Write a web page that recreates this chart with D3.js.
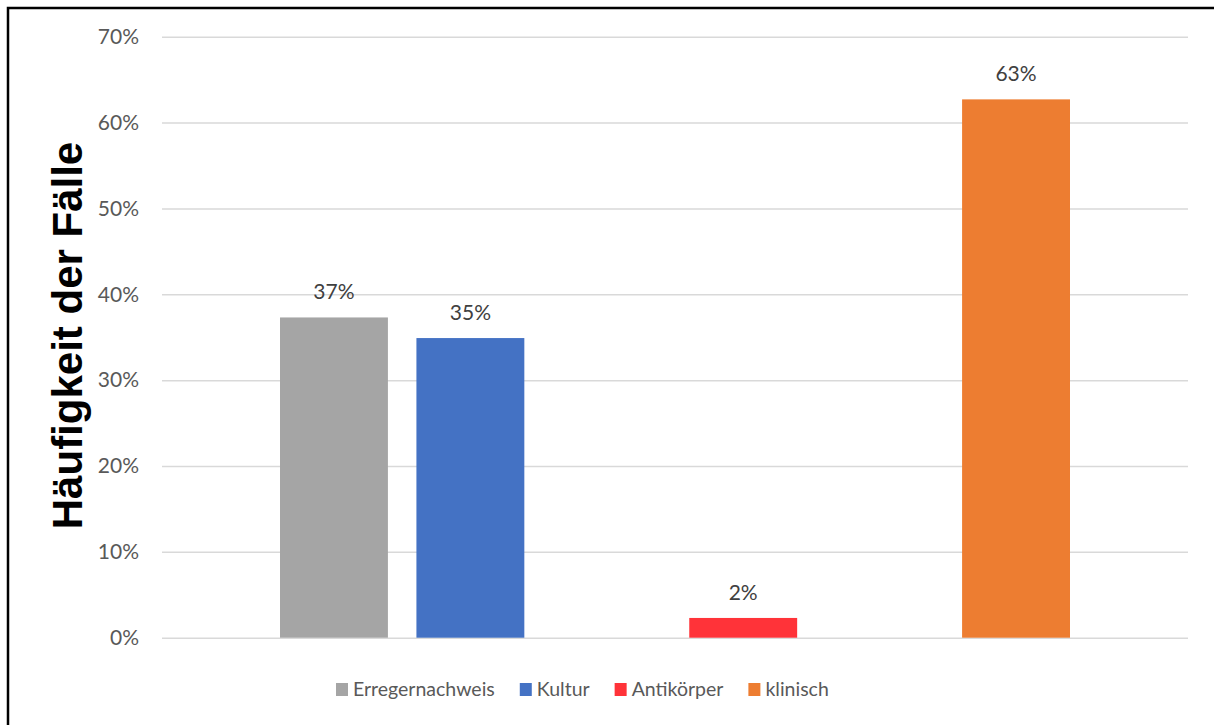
<!DOCTYPE html>
<html>
<head>
<meta charset="utf-8">
<script src="https://cdn.jsdelivr.net/npm/d3@7"></script>
<style>
  html, body { margin: 0; padding: 0; background: #fff; }
  svg { display: block; }
</style>
</head>
<body>
<svg id="chart" width="1214" height="725"></svg>
<script>
// Diagnosis categories and their share of cases
const seriesNames = ["Erregernachweis", "Kultur", "Antikörper", "klinisch"];
const seriesValues = [0.373, 0.349, 0.023, 0.627];
const seriesColors = ["#A5A5A5", "#4472C4", "#FF3339", "#ED7D31"];
// position of each series within the six-slot cluster (slots 2 and 4 stay empty)
const seriesSlots = [0, 1, 3, 5];
const slotCount = 6;
const yTicks = [0, 0.1, 0.2, 0.3, 0.4, 0.5, 0.6, 0.7];
const yTitle = "Häufigkeit der Fälle";

const svg = d3.select("#chart");
const W = 1214, H = 725;

// outer frame
svg.append("rect")
  .attr("x", 8).attr("y", 8)
  .attr("width", W + 20).attr("height", H + 20)
  .attr("fill", "none").attr("stroke", "#000").attr("stroke-width", 2.5);

const plot = { left: 162, right: 1188, top: 36.7, bottom: 637.7 };
const clusterInset = 103.75;

const y = d3.scaleLinear().domain([0, 0.7]).range([plot.bottom, plot.top]);
const x = d3.scaleBand()
  .domain(d3.range(slotCount))
  .range([plot.left + clusterInset, plot.right - clusterInset])
  .paddingInner(0.209)
  .paddingOuter(0.1045);

const fmt = d3.format(".0%");
const font = "Lato, 'Open Sans', sans-serif";

// y axis: gridlines and tick labels
const yAxis = d3.axisLeft(y)
  .tickValues(yTicks)
  .tickFormat(fmt)
  .tickSize(-(plot.right - plot.left))
  .tickPadding(23);

const gy = svg.append("g")
  .attr("transform", `translate(${plot.left},0)`)
  .call(yAxis);
gy.select(".domain").remove();
gy.selectAll(".tick line").attr("stroke", "#D9D9D9").attr("stroke-width", 1.5);
gy.selectAll(".tick text")
  .attr("fill", "#595959")
  .style("font-family", font)
  .style("font-size", "21px");

// bars
const bars = seriesNames.map((name, i) => ({
  name, value: seriesValues[i], color: seriesColors[i], slot: seriesSlots[i]
}));

svg.append("g").selectAll("rect")
  .data(bars)
  .join("rect")
  .attr("x", d => x(d.slot))
  .attr("width", x.bandwidth())
  .attr("y", d => y(d.value))
  .attr("height", d => y(0) - y(d.value))
  .attr("fill", d => d.color);

// value labels
svg.append("g").selectAll("text")
  .data(bars)
  .join("text")
  .attr("x", d => x(d.slot) + x.bandwidth() / 2)
  .attr("y", d => y(d.value) - 18)
  .attr("text-anchor", "middle")
  .attr("fill", "#404040")
  .style("font-family", font)
  .style("font-size", "21px")
  .text(d => fmt(d.value));

// y axis title
svg.append("text")
  .attr("transform", `translate(82,${(142 + 529) / 2}) rotate(-90)`)
  .attr("text-anchor", "middle")
  .attr("fill", "#000")
  .style("font-family", "'Liberation Sans', Arial, sans-serif")
  .style("font-weight", "bold")
  .style("font-size", "42px")
  .text(yTitle);

// legend
const legend = svg.append("g");
let lx = 336;
const ly = 696;
bars.forEach(d => {
  legend.append("rect")
    .attr("x", lx).attr("y", ly - 13)
    .attr("width", 12).attr("height", 13)
    .attr("fill", d.color);
  const t = legend.append("text")
    .attr("x", lx + 17).attr("y", ly)
    .attr("fill", "#595959")
    .style("font-family", font)
    .style("font-size", "19.5px")
    .text(d.name);
  lx += 17 + t.node().getComputedTextLength() + 25;
});
</script>
</body>
</html>
